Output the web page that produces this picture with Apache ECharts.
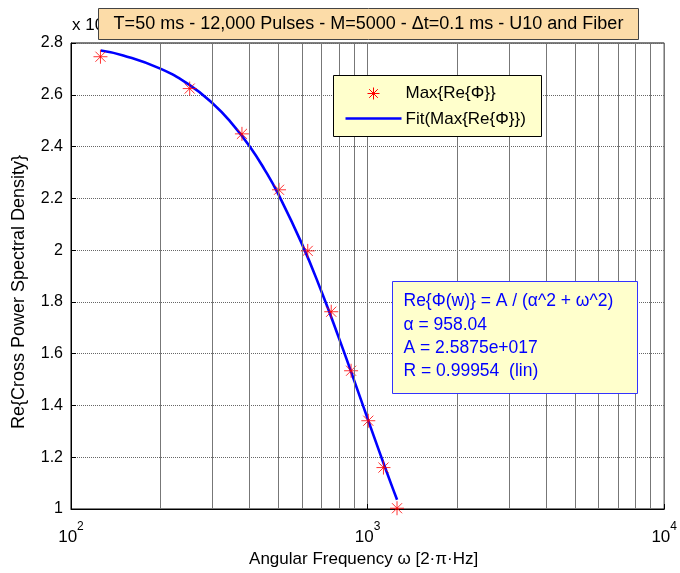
<!DOCTYPE html>
<html><head><meta charset="utf-8">
<script src="https://cdn.jsdelivr.net/npm/echarts@6/dist/echarts.min.js"></script>
<style>html,body{margin:0;padding:0;background:#fff}#c{width:680px;height:573px}</style>
</head><body><div id="c"></div>
<script>
// Measured points (omega, Re{PSD} x 1e11)
var omegaPts = [125.7, 251.3, 377.0, 502.7, 628.3, 754.0, 879.6, 1005.3, 1131.0, 1256.6];
var maxRe = [2.747, 2.624, 2.449, 2.233, 1.997, 1.762, 1.534, 1.341, 1.160, 1.003];
// Fit curve
var omegaFit = [126, 150, 200, 250, 300, 350, 400, 450, 500, 600, 700, 800, 900, 1000, 1100, 1200, 1257];
var fitVals = [2.771, 2.752, 2.701, 2.639, 2.567, 2.487, 2.401, 2.310, 2.216, 2.025, 1.838, 1.661, 1.498, 1.349, 1.216, 1.097, 1.036];
var minorGrid = [200, 300, 400, 500, 600, 700, 800, 900, 2000, 3000, 4000, 5000, 6000, 7000, 8000, 9000];
var titleText = 'T=50 ms - 12,000 Pulses - M=5000 - \u0394t=0.1 ms - U10 and Fiber';
var legendNames = ['Max{Re{\u03A6}}', 'Fit(Max{Re{\u03A6}})'];
var annoLines = ['Re{\u03A6(w)} = A / (\u03B1^2 + \u03C9^2)', '\u03B1 = 958.04', 'A = 2.5875e+017', 'R = 0.99954  (lin)'];
var xName = 'Angular Frequency \u03C9 [2\u00B7\u03C0\u00B7Hz]';
var yName = 'Re{Cross Power Spectral Density}';

var FONT = 'Arial, "Liberation Sans", sans-serif';
var star = 'path://M0,-5L0,5M-5,0L5,0M-3.6,-3.6L3.6,3.6M-3.6,3.6L3.6,-3.6';

function starLines(cx, cy, r) {
  var d = r * 0.72;
  var segs = [[0, -r, 0, r], [-r, 0, r, 0], [-d, -d, d, d], [-d, d, d, -d]];
  return segs.map(function (s) {
    return {type: 'line', z: 101, shape: {x1: cx + s[0], y1: cy + s[1], x2: cx + s[2], y2: cy + s[3]}, style: {stroke: '#ff0000', lineWidth: 1}};
  });
}

var chart = echarts.init(document.getElementById('c'));
chart.setOption({
  animation: false,
  backgroundColor: '#fff',
  grid: {left: 71, right: 9, top: 43, bottom: 57, show: true, borderColor: '#000', borderWidth: 1, backgroundColor: 'transparent'},
  xAxis: {
    type: 'log', logBase: 10, min: 100, max: 10000,
    name: xName, nameLocation: 'middle', nameGap: 42,
    nameTextStyle: {fontFamily: FONT, fontSize: 17, color: '#000', padding: [0, 8, 0, 0]},
    axisLine: {show: true, lineStyle: {color: '#000', width: 1}},
    axisTick: {show: true, inside: true, length: 5, lineStyle: {color: '#000'}},
    splitLine: {show: true, lineStyle: {color: '#777', type: 'solid', width: 1}},
    axisLabel: {
      margin: 12, color: '#000',
      formatter: function (v) { var e = Math.round(Math.log10(v)); return '{b|10}{s|' + e + '}'; },
      rich: {b: {fontFamily: FONT, fontSize: 17, color: '#000', padding: [8, 0, 0, 0]}, s: {fontFamily: FONT, fontSize: 12, color: '#000', verticalAlign: 'top', padding: [0, 0, 10, 0]}}
    }
  },
  yAxis: {
    type: 'value', min: 1, max: 2.8, interval: 0.2,
    axisLine: {show: true, lineStyle: {color: '#000'}},
    axisTick: {show: true, inside: true, length: 5, lineStyle: {color: '#000'}},
    splitLine: {show: true, lineStyle: {color: '#666', type: 'dotted', width: 1}},
    axisLabel: {fontFamily: FONT, fontSize: 16, color: '#000', margin: 8,
      formatter: function (v) { return String(Math.round(v * 10) / 10); }}
  },
  series: [
    {
      name: 'grid', type: 'line', data: [], silent: true,
      markLine: {silent: true, symbol: 'none', label: {show: false},
        lineStyle: {color: '#777', type: 'solid', width: 1},
        data: minorGrid.map(function (v) { return {xAxis: v}; })}
    },
    {
      name: legendNames[1], type: 'line', smooth: true, showSymbol: false, symbol: 'none',
      lineStyle: {color: '#0000ff', width: 2.6}, itemStyle: {color: '#0000ff'},
      data: omegaFit.map(function (w, i) { return [w, fitVals[i]]; }), z: 3
    },
    {
      name: legendNames[0], type: 'scatter', symbol: star, symbolSize: 14,
      itemStyle: {color: 'transparent', borderColor: '#ff0000', borderWidth: 1},
      data: omegaPts.map(function (w, i) { return [w, maxRe[i]]; }), z: 4
    }
  ],
  graphic: [
    {type: 'text', x: 19, y: 292, rotation: Math.PI / 2, z: 1, style: {text: yName, font: '18px ' + FONT, fill: '#000', align: 'center', verticalAlign: 'middle'}},
    {type: 'text', left: 72, top: 17, z: 1, style: {text: 'x 10', font: '17px ' + FONT, fill: '#000'}},
    {type: 'text', left: 106, top: 13, z: 1, style: {text: '11', font: '12px ' + FONT, fill: '#000'}},
    {type: 'group', left: 98, top: 8, z: 100, children: [
      {type: 'rect', z: 100, shape: {x: 0, y: 0, width: 540, height: 31}, style: {fill: '#FCDCA8', stroke: '#444', lineWidth: 1}},
      {type: 'text', z: 101, x: 270, y: 16, style: {text: titleText, font: '18px ' + FONT, fill: '#000', align: 'center', verticalAlign: 'middle'}}
    ]},
    {type: 'group', left: 333, top: 75, z: 100, children: [
      {type: 'rect', z: 100, shape: {x: 0, y: 0, width: 208, height: 61}, style: {fill: '#FFFFCC', stroke: '#000', lineWidth: 1}},
      {type: 'text', z: 101, x: 72, y: 18, style: {text: legendNames[0], font: '17px ' + FONT, fill: '#000', verticalAlign: 'middle'}},
      {type: 'line', z: 101, shape: {x1: 12, y1: 43, x2: 68, y2: 43}, style: {stroke: '#0000ff', lineWidth: 2.5}},
      {type: 'text', z: 101, x: 72, y: 44, style: {text: legendNames[1], font: '17px ' + FONT, fill: '#000', verticalAlign: 'middle'}}
    ].concat(starLines(40, 18, 6))},
    {type: 'group', left: 392, top: 281, z: 100, children: [
      {type: 'rect', z: 100, shape: {x: 0, y: 0, width: 245, height: 112}, style: {fill: '#FFFFCC', stroke: '#3333ff', lineWidth: 1}},
      {type: 'text', z: 101, x: 11, y: 20, style: {text: annoLines[0], font: '17.5px ' + FONT, fill: '#0000ff', verticalAlign: 'middle'}},
      {type: 'text', z: 101, x: 11, y: 44, style: {text: annoLines[1], font: '17.5px ' + FONT, fill: '#0000ff', verticalAlign: 'middle'}},
      {type: 'text', z: 101, x: 11, y: 67, style: {text: annoLines[2], font: '17.5px ' + FONT, fill: '#0000ff', verticalAlign: 'middle'}},
      {type: 'text', z: 101, x: 11, y: 90, style: {text: annoLines[3], font: '17.5px ' + FONT, fill: '#0000ff', verticalAlign: 'middle'}}
    ]}
  ]
});
</script></body></html>
